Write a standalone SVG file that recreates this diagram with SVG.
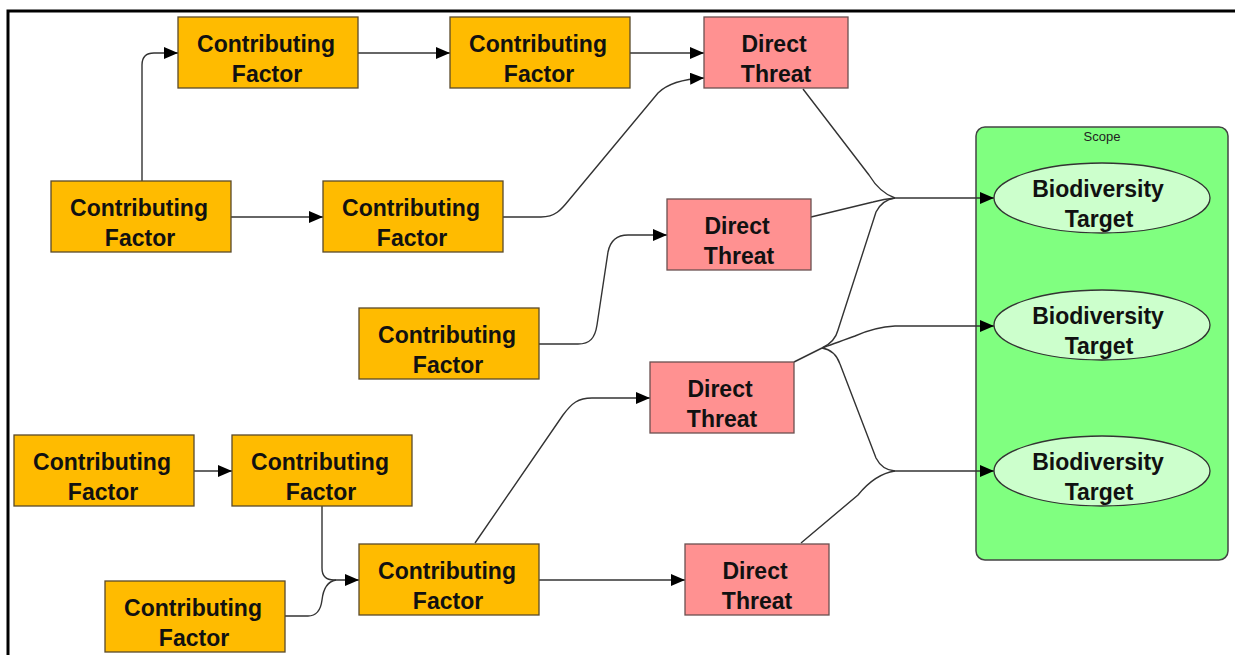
<svg xmlns="http://www.w3.org/2000/svg" width="1235" height="655" viewBox="0 0 1235 655">
<style>
.cf{fill:#FFBB00;stroke:#5a4a2a;stroke-width:1.3}
.dt{fill:#FF9191;stroke:#6a5050;stroke-width:1.3}
.bt{fill:#CCFFCC;stroke:#333;stroke-width:1.3}
.t{font-family:"Liberation Sans",Arial,sans-serif;font-weight:bold;font-size:23px;fill:#111;text-anchor:middle}
.c{fill:none;stroke:#333;stroke-width:1.4}
.a{marker-end:url(#arr)}
</style>
<defs>
<marker id="arr" markerUnits="userSpaceOnUse" markerWidth="14" markerHeight="12" refX="14" refY="6" orient="auto">
<path d="M0 0 L14 6 L0 12 z" fill="#000"/>
</marker>
</defs>
<rect width="1235" height="655" fill="#fff"/>
<path d="M8 655 L8 11 L1235 11" fill="none" stroke="#000" stroke-width="3"/>

<g id="scope">
<rect x="976" y="127" width="252" height="433" rx="9" fill="#80FF80" stroke="#444" stroke-width="1.5"/>
<text x="1102" y="141" style="font-family:'Liberation Sans',Arial,sans-serif;font-size:13px;fill:#222;text-anchor:middle">Scope</text>
</g>

<g id="connectors">
<path class="c a" d="M142 181 L142 65 Q142 53 154 53 L178 53"/>
<path class="c a" d="M358 53 L450 53"/>
<path class="c a" d="M630 53 L704 53"/>
<path class="c a" d="M231 217 L323 217"/>
<path class="c a" d="M503 217 L541 217 C555 217 561 210 569 200 L658 93 C668 83 684 79 704 78"/>
<path class="c" d="M803 89 L869 175 Q880 193 895 198"/>
<path class="c" d="M811 217 L873 202 Q884 199 895 198"/>
<path class="c a" d="M895 198 L994 198"/>
<path class="c" d="M794 362 L822 348"/>
<path class="c" d="M822 348 Q835 342 838 330 L876 212 Q882 200 895 198"/>
<path class="c a" d="M822 348 Q830 345 855 336 Q875 327 895 326 L994 326"/>
<path class="c" d="M822 348 Q835 350 840 364 L876 458 Q882 470 895 471"/>
<path class="c" d="M801 543 L858 495 Q875 474 895 471"/>
<path class="c a" d="M895 471 L994 471"/>
<path class="c a" d="M539 344 L578 344 C590 344 595 338 597 325 L608 252 C610 242 616 235 628 235 L667 235"/>
<path class="c a" d="M475 543 L563 415 C572 403 578 398 592 398 L650 398"/>
<path class="c a" d="M539 580 L685 580"/>
<path class="c a" d="M194 471 L232 471"/>
<path class="c a" d="M322 506 L322 568 Q322 580 334 580 L359 580"/>
<path class="c" d="M285 616 L308 616 Q320 616 322 600 Q324 582 336 580"/>
</g>

<g id="cf1"><rect class="cf" x="178" y="17" width="180" height="71"/><text class="t" x="266" y="52">Contributing</text><text class="t" x="267" y="82">Factor</text></g>
<g id="cf2"><rect class="cf" x="450" y="17" width="180" height="71"/><text class="t" x="538" y="52">Contributing</text><text class="t" x="539" y="82">Factor</text></g>
<g id="dt1"><rect class="dt" x="704" y="17" width="144" height="71"/><text class="t" x="774" y="52">Direct</text><text class="t" x="776" y="82">Threat</text></g>
<g id="cf3"><rect class="cf" x="51" y="181" width="180" height="71"/><text class="t" x="139" y="216">Contributing</text><text class="t" x="140" y="246">Factor</text></g>
<g id="cf4"><rect class="cf" x="323" y="181" width="180" height="71"/><text class="t" x="411" y="216">Contributing</text><text class="t" x="412" y="246">Factor</text></g>
<g id="dt2"><rect class="dt" x="667" y="199" width="144" height="71"/><text class="t" x="737" y="234">Direct</text><text class="t" x="739" y="264">Threat</text></g>
<g id="cf5"><rect class="cf" x="359" y="308" width="180" height="71"/><text class="t" x="447" y="343">Contributing</text><text class="t" x="448" y="373">Factor</text></g>
<g id="dt3"><rect class="dt" x="650" y="362" width="144" height="71"/><text class="t" x="720" y="397">Direct</text><text class="t" x="722" y="427">Threat</text></g>
<g id="cf6"><rect class="cf" x="14" y="435" width="180" height="71"/><text class="t" x="102" y="470">Contributing</text><text class="t" x="103" y="500">Factor</text></g>
<g id="cf7"><rect class="cf" x="232" y="435" width="180" height="71"/><text class="t" x="320" y="470">Contributing</text><text class="t" x="321" y="500">Factor</text></g>
<g id="cf8"><rect class="cf" x="359" y="544" width="180" height="71"/><text class="t" x="447" y="579">Contributing</text><text class="t" x="448" y="609">Factor</text></g>
<g id="cf9"><rect class="cf" x="105" y="581" width="180" height="71"/><text class="t" x="193" y="616">Contributing</text><text class="t" x="194" y="646">Factor</text></g>
<g id="dt4"><rect class="dt" x="685" y="544" width="144" height="71"/><text class="t" x="755" y="579">Direct</text><text class="t" x="757" y="609">Threat</text></g>
<g id="bt1"><ellipse class="bt" cx="1102" cy="198" rx="108" ry="35"/><text class="t" x="1098" y="197">Biodiversity</text><text class="t" x="1099" y="227">Target</text></g>
<g id="bt2"><ellipse class="bt" cx="1102" cy="325" rx="108" ry="35"/><text class="t" x="1098" y="324">Biodiversity</text><text class="t" x="1099" y="354">Target</text></g>
<g id="bt3"><ellipse class="bt" cx="1102" cy="471" rx="108" ry="35"/><text class="t" x="1098" y="470">Biodiversity</text><text class="t" x="1099" y="500">Target</text></g>
</svg>
